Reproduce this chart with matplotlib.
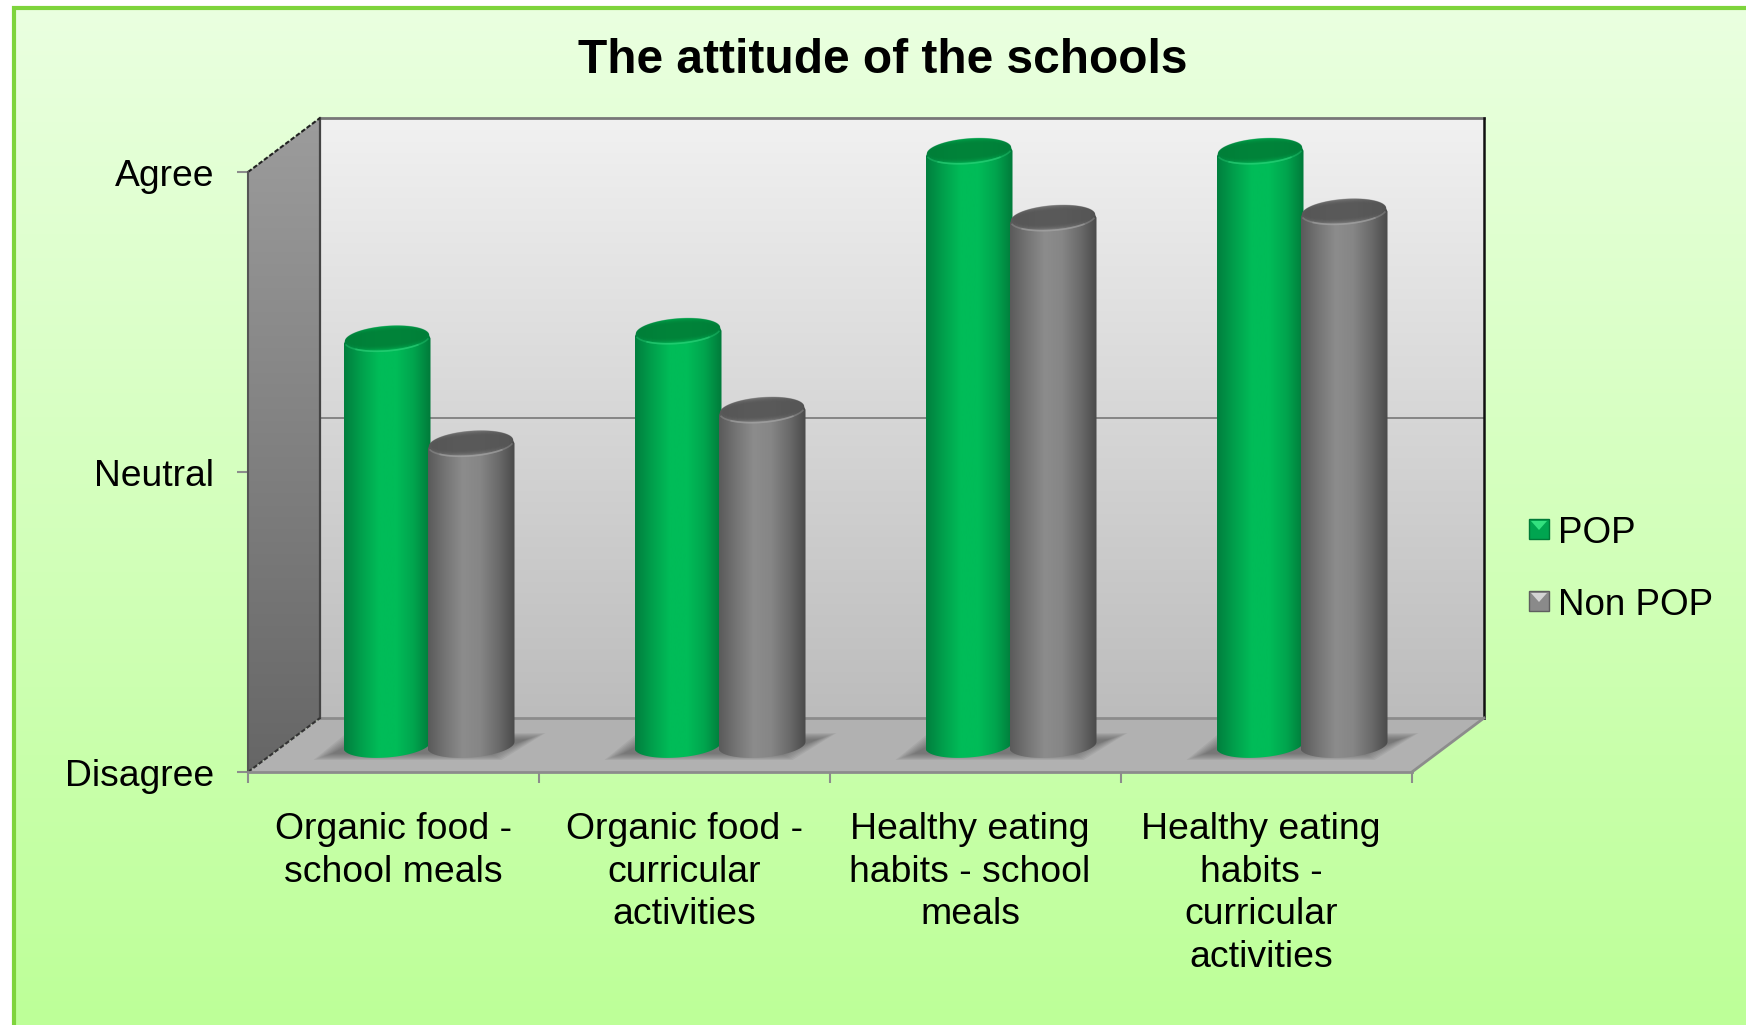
'''
The attitude of the schools: 3D style cylinder chart
'''

import numpy as np
import matplotlib

matplotlib.use('Agg')
import matplotlib.pyplot as plt
from matplotlib.colors import LinearSegmentedColormap
from matplotlib.patches import Polygon

plt.rcParams['font.family'] = ['Liberation Sans', 'DejaVu Sans']

title = 'The attitude of the schools'
categories = ['Organic food -\nschool meals',
              'Organic food -\ncurricular\nactivities',
              'Healthy eating\nhabits - school\nmeals',
              'Healthy eating\nhabits -\ncurricular\nactivities']
level_values = [1, 2, 3]
level_labels = ['Disagree', 'Neutral', 'Agree']
pop = [2.355, 2.38, 2.98, 2.98]
non_pop = [2.005, 2.117, 2.757, 2.778]

W, H = 1746, 1025

# front plane of the chart box, and how far back the box goes (pixels)
LEFT, RIGHT, BOTTOM, TOP = 248, 1412, 772, 172
DX, DY = 72, 54
PX_X = (RIGHT - LEFT) / len(categories)
PX_Y = (BOTTOM - TOP) / (level_values[-1] - level_values[0])

BAR_W = 87
GROUP_GAP = 3

green_body = LinearSegmentedColormap.from_list(
    'gb', ['#007f3e', '#00a04c', '#00bc58', '#00bc58', '#00a54e', '#007a3a'])
gray_body = LinearSegmentedColormap.from_list(
    'gr', ['#5a5a5a', '#757575', '#8c8c8c', '#868686', '#6c6c6c', '#4a4a4a'])
wall_cmap = LinearSegmentedColormap.from_list('w', ['#f1f1f1', '#bcbcbc'])
side_cmap = LinearSegmentedColormap.from_list('s', ['#9c9c9c', '#666666'])
page_cmap = LinearSegmentedColormap.from_list('p', ['#eaffe0', '#bdff98'])

fig = plt.figure(figsize=(W / 100, H / 100), dpi=100)
bg = fig.add_axes([0, 0, 1, 1], zorder=0)
bg.set_xlim(0, W)
bg.set_ylim(H, 0)
bg.axis('off')

grad = np.linspace(0, 1, 256).reshape(-1, 1)

# page background and its frame
bg.imshow(grad, cmap=page_cmap, extent=(12, W, H, 7), aspect='auto', zorder=0)
bg.plot([13.5, 13.5, W], [H, 7.5, 7.5], color='#7ed43c', lw=3, zorder=1,
        solid_joinstyle='miter')


def shaded_poly(axis, pts, cmap, z):
    patch = Polygon(pts, closed=True, facecolor='none', edgecolor='none',
                    transform=axis.transData)
    axis.add_patch(patch)
    xs = [p[0] for p in pts]
    ys = [p[1] for p in pts]
    im = axis.imshow(grad, cmap=cmap, aspect='auto', zorder=z,
                     extent=(min(xs), max(xs), max(ys), min(ys)))
    im.set_clip_path(patch)


# back wall, side wall, floor
back_l, back_r = LEFT + DX, RIGHT + DX
back_t, back_b = TOP - DY, BOTTOM - DY
shaded_poly(bg, [(back_l, back_t), (back_r, back_t), (back_r, back_b),
                 (back_l, back_b)], wall_cmap, 2)
shaded_poly(bg, [(LEFT, TOP), (back_l, back_t), (back_l, back_b),
                 (LEFT, BOTTOM)], side_cmap, 2)
bg.add_patch(Polygon([(LEFT, BOTTOM), (back_l, back_b), (back_r, back_b),
                      (RIGHT, BOTTOM)], closed=True, facecolor='#b1b1b1',
                     edgecolor='none', zorder=2))

# box edges
grid_y = (TOP + BOTTOM) / 2 - DY
bg.plot([back_l, back_r], [grid_y, grid_y], color='#858585', lw=1.4, zorder=3)
bg.plot([back_l, back_r], [back_t, back_t], color='#777777', lw=2, zorder=3)
bg.plot([back_l, back_r], [back_b, back_b], color='#8c8c8c', lw=2, zorder=3)
bg.plot([back_l, back_l], [back_t, back_b], color='#444444', lw=1.6, zorder=3)
bg.plot([back_r, back_r], [back_t, back_b], color='#111111', lw=1.8, zorder=3)
bg.plot([LEFT, back_l], [TOP, back_t], color='#222222', lw=1.5, ls=(0, (2.2, 1)),
        zorder=3)
bg.plot([LEFT, back_l], [BOTTOM, back_b], color='#333333', lw=1.5,
        ls=(0, (2.2, 1)), zorder=3)
bg.plot([RIGHT, back_r], [BOTTOM, back_b], color='#8c8c8c', lw=2, zorder=3)

# soft shadows on the floor
for i in range(len(categories)):
    cx = LEFT + DX / 2 + PX_X * (i + 0.5)
    for k in range(8):
        g = k * 2.6
        v = k * 0.9
        bg.add_patch(Polygon([(cx - 116 + g, 760 - v), (cx - 84 + g * 0.6, 734 + v),
                              (cx + 116 - g, 733 + v), (cx + 72 - g * 0.6, 760 - v)],
                             closed=True, facecolor='#4a4a4a', edgecolor='none',
                             alpha=0.09, zorder=4))

# front plane axes, this carries the value scale
ax = fig.add_axes([LEFT / W, 1 - BOTTOM / H, (RIGHT - LEFT) / W, (BOTTOM - TOP) / H],
                  zorder=1)
ax.patch.set_visible(False)
for s in ('top', 'right'):
    ax.spines[s].set_visible(False)
ax.spines['left'].set_color('#555555')
ax.spines['left'].set_linewidth(1.5)
ax.spines['bottom'].set_color('#8c8c8c')
ax.spines['bottom'].set_linewidth(2)


def ellipse(cx, cy, t, scale=1.0, squash=1.0):
    # slightly tilted, rises to the right (offsets in data units)
    a = scale * BAR_W / 2 / PX_X
    b = squash * 12.5 / PX_Y
    k = scale * 3.2 / PX_Y
    return cx + a * np.cos(t), cy + b * np.sin(t) + k * np.cos(t)


def cylinder(x, val, cmap, top_col, rim_col):
    # bars stand half way back in the box
    base = level_values[0] + depth_y
    top = val + depth_y

    # outline: front half of the base, then up and over the rounded shoulder
    t_front = np.linspace(np.pi, 2 * np.pi, 60)
    bx, by = ellipse(x, base, t_front)
    t_back = np.linspace(0, np.pi, 60)
    tx, ty = ellipse(x, top, t_back, scale=0.97)
    sx, sy = ellipse(x, top - 3 / PX_Y, np.array([0.0]))
    lx, ly = ellipse(x, top - 3 / PX_Y, np.array([np.pi]))
    outline = np.column_stack([np.r_[bx, sx, tx, lx], np.r_[by, sy, ty, ly]])
    body = Polygon(outline, closed=True, facecolor='none', edgecolor='none',
                   transform=ax.transData)
    ax.add_patch(body)
    hgrad = np.linspace(0, 1, 256).reshape(1, -1)
    a = BAR_W / 2 / PX_X
    im = ax.imshow(hgrad, cmap=cmap, aspect='auto', zorder=5,
                   extent=(x - a, x + a, base - 0.1, top + 0.1))
    im.set_clip_path(body)
    im.set_clip_box(fig.bbox)

    # top face with a soft edge, dark in the middle
    t = np.linspace(0, 2 * np.pi, 120)
    for k in range(5):
        ex, ey = ellipse(x, top + 0.6 / PX_Y, t, scale=0.97 - k * 0.025,
                         squash=0.98 - k * 0.09)
        ax.fill(ex, ey, facecolor=top_col, edgecolor='none', alpha=0.38, zorder=5,
                clip_on=False)

    # highlight along the front of the shoulder, strongest in the middle
    for span, al in ((0.42, 0.35), (0.26, 0.45)):
        t = np.linspace(1.5 - span, 1.5 + span, 30) * np.pi
        ex, ey = ellipse(x, top - 0.5 / PX_Y, t, scale=0.97, squash=0.95)
        ax.plot(ex, ey, color=rim_col, lw=1.2, alpha=al, zorder=5, clip_on=False)


xs = np.arange(len(categories)) + 0.5
depth_x = (DX / 2 - 0.5) / PX_X
depth_y = (DY / 2) / PX_Y
offset = (BAR_W / 2 - GROUP_GAP / 2) / PX_X
label_nudge = np.array([0, 0, -5.5, -5.5]) / PX_X

for i, x in enumerate(xs):
    cylinder(x + depth_x - offset, pop[i], green_body, '#007f38', '#30d47c')
    cylinder(x + depth_x + offset, non_pop[i], gray_body, '#565656', '#a8a8a8')

ax.set_xlim(0, len(categories))
ax.set_ylim(level_values[0], level_values[-1])

ax.set_yticks(level_values)
ax.set_yticklabels(level_labels, fontsize=26.8, color='black')
ax.tick_params(axis='y', length=8, width=1.5, color='#8c8c8c', pad=16.5)
ax.set_xticks(range(len(categories) + 1))
ax.set_xticklabels([])
ax.tick_params(axis='x', which='major', length=8, width=1.5, color='#8c8c8c')
ax.set_xticks(xs + label_nudge, minor=True)
ax.set_xticklabels(categories, minor=True, fontsize=26.9, linespacing=1.28,
                   va='top', ha='center')
ax.tick_params(axis='x', which='minor', length=0, pad=29)

# title and legend
bg.text(883, 60.5, title, fontsize=34.5, fontweight='bold', ha='center', va='center',
        zorder=6)

legend_names = ['POP', 'Non POP']
legend_y = [529, 601]
legend_cols = [('#008c40', '#33e07f', '#00a550', '#007a38'),
               ('#707070', '#d4d4d4', '#8a8a8a', '#5e5e5e')]
for name, y, c in zip(legend_names, legend_y, legend_cols):
    l, r, t, b = 1529, 1549, y - 10, y + 10
    bg.add_patch(Polygon([(l, t), (r, t), (r, b), (l, b)], closed=True,
                         facecolor=c[2], edgecolor=c[3], lw=1, zorder=6))
    bg.add_patch(Polygon([(l + 2, t + 2), (r - 2, t + 2), ((l + r) / 2, y + 1)],
                         closed=True, facecolor=c[1], edgecolor='none', zorder=7))
    bg.text(1558, y + 4.5, name, fontsize=26.5, ha='left', va='center', zorder=6)

bg.set_xlim(0, W)
bg.set_ylim(H, 0)

plt.savefig('out.png', dpi=100)
